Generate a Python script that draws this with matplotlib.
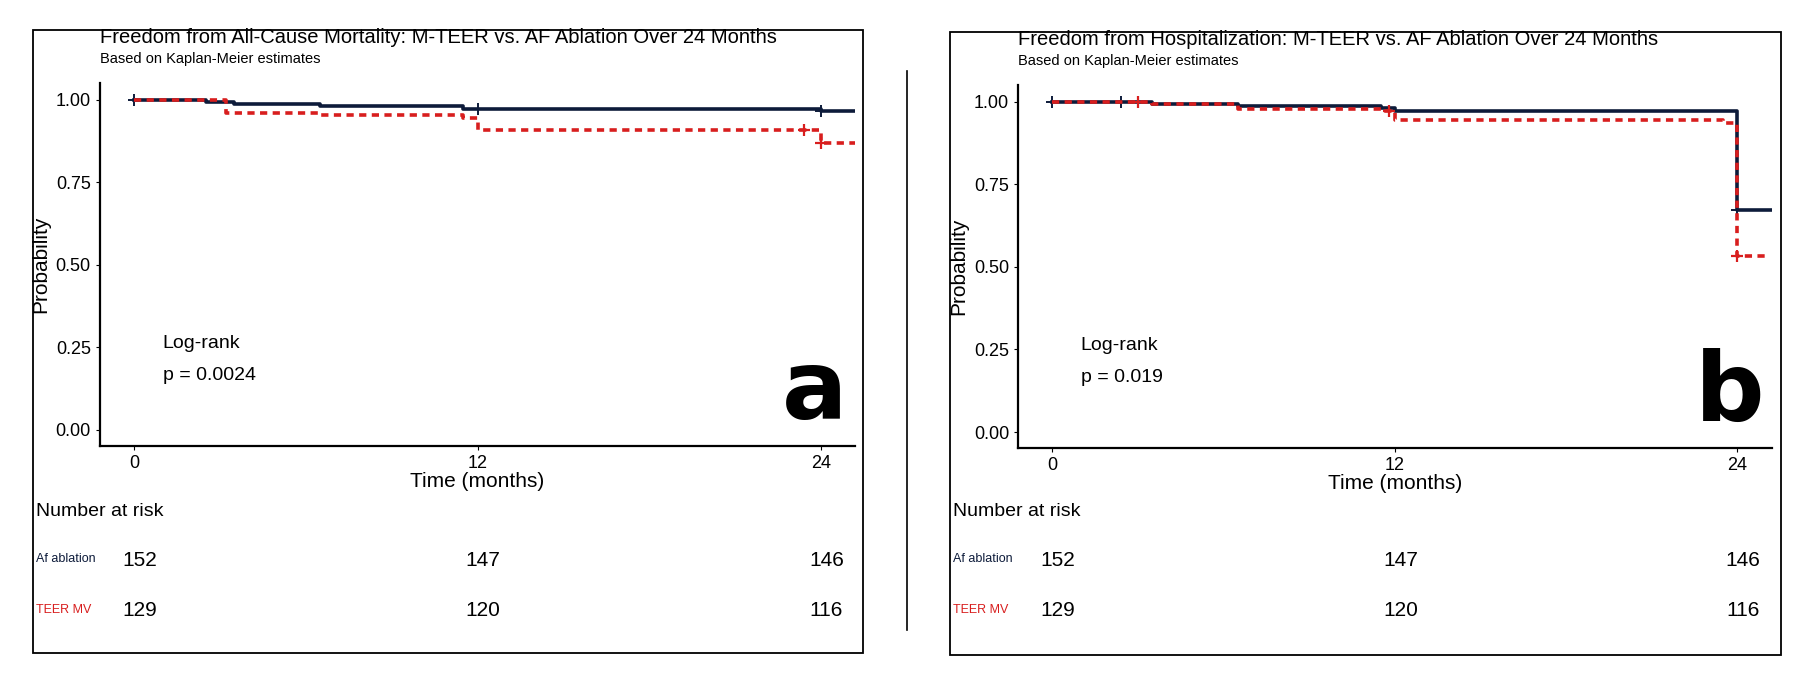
import matplotlib
matplotlib.use("Agg")
import matplotlib.pyplot as plt
from matplotlib.patches import Rectangle
from matplotlib.lines import Line2D

plt.rcParams["font.family"] = ["Liberation Sans", "DejaVu Sans"]

NAVY = "#0d1b3a"
RED = "#d81e1e"

# step curves: (times, survival) -- value holds from time until next time
mort_af_t = [0, 2.5, 3.5, 6.5, 11.5, 24, 25.2]
mort_af_s = [1.0, 0.993, 0.986, 0.980, 0.973, 0.966, 0.966]
mort_af_cens = [0, 12, 24]
mort_teer_t = [0, 3.2, 6.5, 11.5, 12, 24, 25.2]
mort_teer_s = [1.0, 0.961, 0.953, 0.946, 0.907, 0.868, 0.868]
mort_teer_cens = [23.4, 24]

hosp_af_t = [0, 3.5, 6.5, 11.5, 12, 24, 25.2]
hosp_af_s = [1.0, 0.993, 0.986, 0.980, 0.973, 0.673, 0.673]
hosp_af_cens = [0, 2.4, 24]
hosp_teer_t = [0, 3.5, 6.5, 11.5, 12, 23.5, 24, 25]
hosp_teer_s = [1.0, 0.993, 0.979, 0.972, 0.946, 0.935, 0.533, 0.533]
hosp_teer_cens = [3.0, 11.8, 24]

risk_times = [0, 12, 24]
risk_af = [152, 147, 146]
risk_teer = [129, 120, 116]

panels = [
    dict(title="Freedom from All-Cause Mortality: M-TEER vs. AF Ablation Over 24 Months",
         p="p = 0.0024", letter="a",
         af=(mort_af_t, mort_af_s, mort_af_cens),
         teer=(mort_teer_t, mort_teer_s, mort_teer_cens),
         box=(0.018, 0.051, 0.457, 0.905), ax=(0.055, 0.352, 0.416, 0.527)),
    dict(title="Freedom from Hospitalization: M-TEER vs. AF Ablation Over 24 Months",
         p="p = 0.019", letter="b",
         af=(hosp_af_t, hosp_af_s, hosp_af_cens),
         teer=(hosp_teer_t, hosp_teer_s, hosp_teer_cens),
         box=(0.523, 0.048, 0.458, 0.906), ax=(0.5606, 0.349, 0.415, 0.527)),
]

fig = plt.figure(figsize=(18.16, 6.88), dpi=100)

# separator line between the panels
fig.add_artist(Line2D([0.4994, 0.4994], [0.085, 0.897], color="black", lw=1.2))


def step_value(t, s, x):
    v = s[0]
    for ti, si in zip(t, s):
        if ti <= x:
            v = si
    return v


for pn in panels:
    bx, by, bw, bh = pn["box"]
    fig.add_artist(Rectangle((bx, by), bw, bh, transform=fig.transFigure,
                             fill=False, edgecolor="black", lw=1.3))
    ax = fig.add_axes(pn["ax"])
    t, s, c = pn["af"]
    ax.step(t, s, where="post", color=NAVY, lw=2.6)
    ax.plot(c, [step_value(t, s, x) for x in c], "+", color=NAVY, ms=9, mew=1.4)
    t, s, c = pn["teer"]
    ax.step(t, s, where="post", color=RED, lw=2.6, linestyle=(0, (2, 1.5)))
    ax.plot(c, [step_value(t, s, x) for x in c], "+", color=RED, ms=9, mew=1.6)

    ax.set_xlim(-1.2, 25.2)
    ax.set_ylim(-0.048, 1.05)
    ax.set_xticks(risk_times)
    ax.set_yticks([0, 0.25, 0.5, 0.75, 1.0])
    ax.set_yticklabels(["0.00", "0.25", "0.50", "0.75", "1.00"])
    ax.tick_params(labelsize=13, length=3)
    for side in ("top", "right"):
        ax.spines[side].set_visible(False)
    for side in ("left", "bottom"):
        ax.spines[side].set_linewidth(1.6)
    ax.set_xlabel("Time (months)", fontsize=15, labelpad=0)
    ax.set_ylabel("Probability", fontsize=15)
    ax.text(0.0, 1.125, pn["title"], transform=ax.transAxes, fontsize=14.5, va="center")
    ax.text(0.0, 1.068, "Based on Kaplan-Meier estimates", transform=ax.transAxes,
            fontsize=10.5, va="center")
    ax.text(0.083, 0.283, "Log-rank", transform=ax.transAxes, fontsize=14, va="center")
    ax.text(0.083, 0.193, pn["p"], transform=ax.transAxes, fontsize=14, va="center")
    ax.text(0.99, 0.075, pn["letter"], transform=ax.transAxes, fontsize=70,
            fontweight="heavy", ha="right", va="baseline", family="DejaVu Sans")

    # number at risk table (positions in figure coordinates)
    lx = bx + 0.0018
    fig.text(lx, 0.257, "Number at risk", fontsize=14, va="center")
    fig.text(lx, 0.187, "Af ablation", fontsize=9, color=NAVY, va="center")
    fig.text(lx, 0.114, "TEER MV", fontsize=9, color=RED, va="center")
    for tm, a_n, t_n in zip(risk_times, risk_af, risk_teer):
        xd = ax.transData.transform((tm, 0))[0]
        xf = fig.transFigure.inverted().transform((xd, 0))[0] + 0.003
        fig.text(xf, 0.185, str(a_n), fontsize=15, ha="center", va="center")
        fig.text(xf, 0.112, str(t_n), fontsize=15, ha="center", va="center")

fig.savefig("out.png", dpi=100)
